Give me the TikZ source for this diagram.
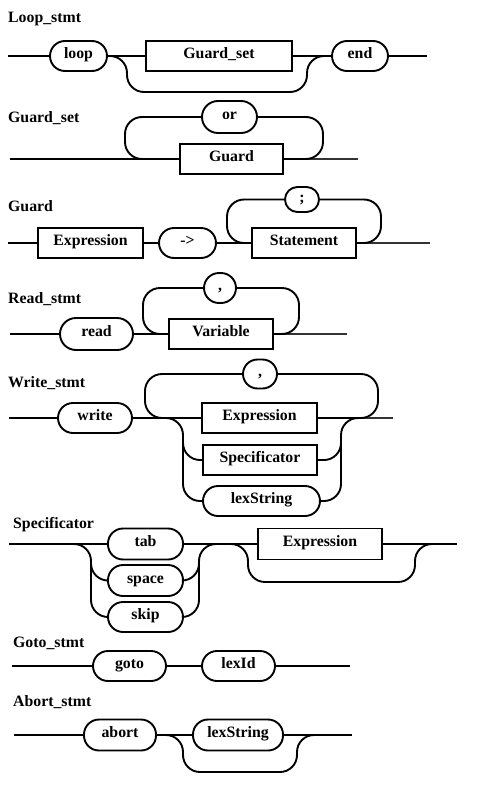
\documentclass[tikz,border=0pt]{standalone}
\usepackage{fontspec}
\setmainfont{Liberation Serif}
\newcommand{\dfont}{\bfseries\fontsize{15.8}{18}\selectfont}
\tikzset{
  ln/.style={line width=1.9pt, rounded corners=17pt},
  thinln/.style={line width=1.2pt, black!80},
  term/.style={draw, line width=1.9pt, rounded corners=15pt, minimum height=30pt,
    inner sep=0pt, font=\dfont, text height=10pt, text depth=5pt},
  nt/.style={draw, line width=1.9pt, minimum height=30pt, inner sep=0pt,
    font=\dfont, text height=10pt, text depth=5pt},
  title/.style={anchor=base west, inner sep=0pt, font=\dfont},
}
\begin{document}
\begin{tikzpicture}[x=1pt, y=-1pt]
\useasboundingbox (0,0) rectangle (486,790);

% Loop_stmt
\node[title] (t1) at (8,22) {Loop\_stmt};
\node[term, minimum width=57pt] (loop) at (78.5,56) {loop};
\node[nt, minimum width=146pt] (gs) at (219,56) {Guard\_set};
\node[term, minimum width=56pt] (end) at (360,56) {end};
\coordinate (a1) at (8,56); \coordinate (b1) at (427,56);
\draw[ln] (a1) -- (loop);
\draw[ln] (loop) -- (gs);
\draw[ln] (gs) -- (end);
\draw[ln] (end) -- (b1);
\draw[ln] (loop.east) -- (127,56) -- (127,92) -- (307,92) -- (307,56) -- (end.west);

% Guard_set
\node[title] (t2) at (8,122) {Guard\_set};
\node[nt, minimum width=103pt] (gd) at (231.5,159) {Guard};
\node[term, minimum width=55pt, minimum height=32pt, rounded corners=16pt] (or) at (229.5,117) {or};
\coordinate (a2) at (10,159); \coordinate (b2) at (358,159);
\draw[ln] (a2) -- (gd);
\draw[thinln] (gd) -- (b2);
\draw[ln] (gd.west) -- (125,159) -- (125,117) -- (or.west);
\draw[ln] (gd.east) -- (323,159) -- (323,117) -- (or.east);

% Guard
\node[title] (t3) at (8,211) {Guard};
\node[nt, minimum width=105pt] (ex1) at (90.5,243) {Expression};
\node[term, minimum width=57pt] (arr) at (187.5,243) {->};
\node[nt, minimum width=104pt] (st) at (304,243) {Statement};
\node[term, minimum width=34pt, minimum height=25pt, rounded corners=12.5pt] (semi) at (302,199.5) {;};
\coordinate (a3) at (8,243); \coordinate (b3) at (430,243);
\draw[ln] (a3) -- (ex1);
\draw[ln] (ex1) -- (arr);
\draw[ln] (arr) -- (st);
\draw[thinln] (st) -- (b3);
\draw[ln] (st.west) -- (227,243) -- (227,199.5) -- (semi.west);
\draw[ln] (st.east) -- (381,243) -- (381,199.5) -- (semi.east);

% Read_stmt
\node[title] (t4) at (8,303) {Read\_stmt};
\node[term, minimum width=73pt, minimum height=32pt, rounded corners=16pt] (read) at (96.5,334) {read};
\node[nt, minimum width=104pt] (var) at (221,334) {Variable};
\node[term, minimum width=32pt] (comma1) at (220,288) {,};
\coordinate (a4) at (10,334); \coordinate (b4) at (347,334);
\draw[ln] (a4) -- (read);
\draw[ln] (read) -- (var);
\draw[thinln] (var) -- (b4);
\draw[ln] (var.west) -- (143,334) -- (143,288) -- (comma1.west);
\draw[ln] (var.east) -- (299,334) -- (299,288) -- (comma1.east);

% Write_stmt
\node[title] (t5) at (8,387) {Write\_stmt};
\node[term, minimum width=74pt] (write) at (95,418) {write};
\node[nt, minimum width=115pt] (ex2) at (259.5,418) {Expression};
\node[nt, minimum width=114pt] (spec) at (260,460) {Specificator};
\node[term, minimum width=117pt] (lex1) at (261.5,501) {lexString};
\node[term, minimum width=34pt, minimum height=29pt, rounded corners=14.5pt] (comma2) at (260,374) {,};
\coordinate (a5) at (9,418); \coordinate (b5) at (393,418);
\draw[ln] (a5) -- (write);
\draw[ln] (write) -- (ex2);
\draw[thinln] (ex2) -- (b5);
\draw[ln] (ex2.west) -- (145,418) -- (145,374) -- (comma2.west);
\draw[ln] (ex2.east) -- (378,418) -- (378,374) -- (comma2.east);
\draw[ln] (162,418) -- (183,418) -- (183,501) -- (lex1.west);
\draw[ln] (183,440) -- (183,460) -- (spec.west);
\draw[ln] (362,418) -- (341,418) -- (341,501) -- (lex1.east);
\draw[ln] (341,440) -- (341,460) -- (spec.east);

% Specificator
\node[title] (t6) at (13,528) {Specificator};
\node[term, minimum width=75pt, minimum height=31pt] (tab) at (145.5,544) {tab};
\node[term, minimum width=75pt, minimum height=31pt] (space) at (145.5,580.5) {space};
\node[term, minimum width=75pt] (skip) at (145.5,617) {skip};
\node[nt, minimum width=124pt, minimum height=31pt] (ex3) at (320,544) {Expression};
\coordinate (a6) at (9,544); \coordinate (b6) at (457,544);
\draw[ln] (a6) -- (tab);
\draw[ln] (tab) -- (ex3);
\draw[ln] (ex3) -- (b6);
\draw[ln] (72,544) -- (91,544) -- (91,617) -- (skip.west);
\draw[ln] (91,560) -- (91,580.5) -- (space.west);
\draw[ln] (218,544) -- (199,544) -- (199,617) -- (skip.east);
\draw[ln] (199,560) -- (199,580.5) -- (space.east);
\draw[ln] (229,544) -- (248,544) -- (248,582) -- (415,582) -- (415,544) -- (434,544);

% Goto_stmt
\node[title] (t7) at (13,647) {Goto\_stmt};
\node[term, minimum width=73pt] (goto) at (129.5,666) {goto};
\node[term, minimum width=73pt] (lexid) at (238.5,666) {lexId};
\coordinate (a7) at (12,666); \coordinate (b7) at (350,666);
\draw[ln] (a7) -- (goto);
\draw[ln] (goto) -- (lexid);
\draw[ln] (lexid) -- (b7);

% Abort_stmt
\node[title] (t8) at (13,706) {Abort\_stmt};
\node[term, minimum width=72pt, minimum height=31pt] (abort) at (120,735) {abort};
\node[term, minimum width=90pt, minimum height=31pt] (lex2) at (238,735) {lexString};
\coordinate (a8) at (14,735); \coordinate (b8) at (352,735);
\draw[ln] (a8) -- (abort);
\draw[ln] (abort) -- (lex2);
\draw[ln] (lex2) -- (b8);
\draw[ln] (abort.east) -- (183,735) -- (183,772) -- (297,772) -- (297,735) -- (316,735);
\end{tikzpicture}
\end{document}
